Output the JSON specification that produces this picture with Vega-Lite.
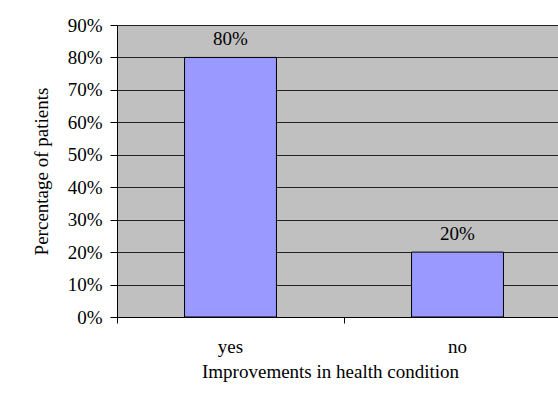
{
  "$schema": "https://vega.github.io/schema/vega-lite/v6.json",
  "width": 441,
  "height": 292,
  "autosize": "none",
  "padding": {"left": 117, "top": 25, "right": 0, "bottom": 80},
  "background": "white",
  "data": {
    "values": [
      {"answer": "yes", "share": 0.8},
      {"answer": "no", "share": 0.2}
    ]
  },
  "config": {
    "font": "Liberation Serif",
    "view": {"fill": "#C0C0C0", "stroke": null},
    "text": {"font": "Liberation Serif"},
    "axis": {
      "labelFont": "Liberation Serif",
      "titleFont": "Liberation Serif",
      "labelColor": "black",
      "titleColor": "black",
      "labelFontSize": 19,
      "titleFontSize": 19,
      "titleFontWeight": "normal",
      "domainColor": "black",
      "tickColor": "black",
      "domainWidth": 1,
      "tickWidth": 1
    }
  },
  "encoding": {
    "x": {
      "field": "answer",
      "type": "nominal",
      "sort": ["yes", "no"],
      "scale": {"range": [0, 454], "paddingInner": 0.595, "paddingOuter": 0.2975},
      "axis": {
        "title": "Improvements in health condition",
        "labelAngle": 0,
        "bandPosition": -0.7283,
        "tickSize": 6,
        "labelPadding": 14,
        "titlePadding": 6,
        "titleX": 213,
        "grid": false
      }
    },
    "y": {
      "field": "share",
      "type": "quantitative",
      "scale": {"domain": [0, 0.9], "nice": false},
      "axis": {
        "title": "Percentage of patients",
        "format": ".0%",
        "values": [0, 0.1, 0.2, 0.3, 0.4, 0.5, 0.6, 0.7, 0.8, 0.9],
        "tickSize": 7,
        "labelPadding": 8,
        "titlePadding": 16,
        "grid": true,
        "gridColor": "#222",
        "gridOpacity": 1
      }
    }
  },
  "layer": [
    {
      "mark": {"type": "bar", "color": "#9999FF", "stroke": "black", "strokeWidth": 1}
    },
    {
      "mark": {"type": "text", "baseline": "bottom", "dy": -8, "fontSize": 19, "color": "black", "font": "Liberation Serif"},
      "encoding": {"text": {"field": "share", "type": "quantitative", "format": ".0%"}}
    }
  ]
}
